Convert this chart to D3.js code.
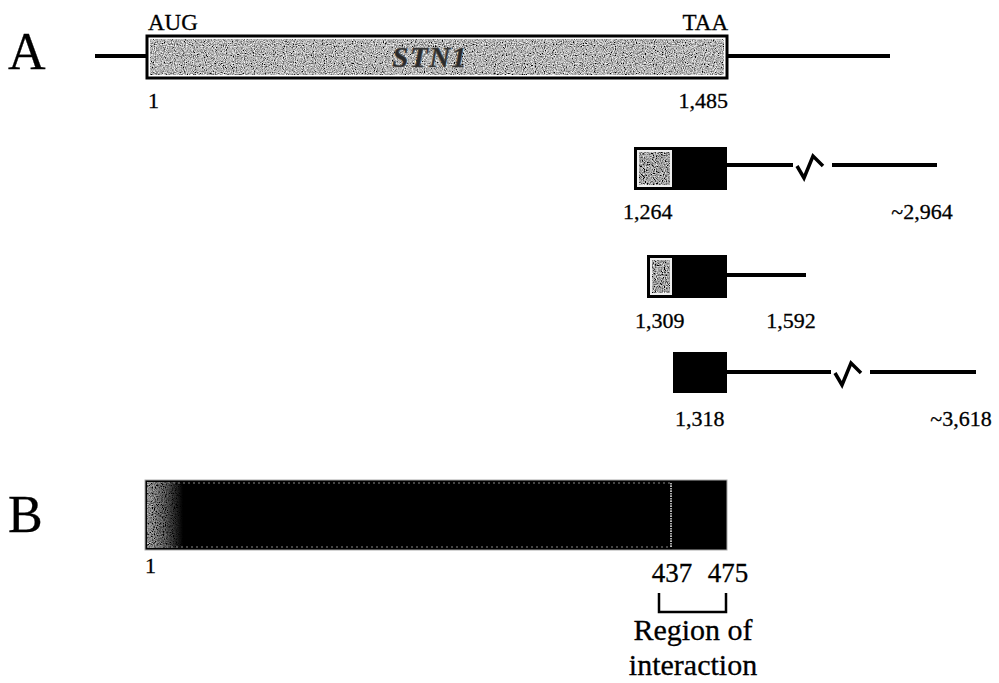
<!DOCTYPE html>
<html>
<head>
<meta charset="utf-8">
<script src="https://cdn.jsdelivr.net/npm/d3@7/dist/d3.min.js"></script>
<style>
  html, body { margin: 0; padding: 0; background: #fff; }
  svg { display: block; }
  text { font-family: "Liberation Serif", "DejaVu Serif", serif; fill: #000; stroke: #000; stroke-width: 0.3; }
</style>
</head>
<body>
<svg id="chart" width="999" height="683"></svg>
<script>
// ---- data -------------------------------------------------------------
// STN1 open reading frame (nucleotides)
const orfStart = 1;
const orfEnd = 1485;
const startCodon = "AUG";
const stopCodon = "TAA";
const geneName = "STN1";

// two-hybrid clones: 5' start, 3' end (nt), whether the end is approximate
const cloneStarts = [1264, 1309, 1318];
const cloneEnds = [2964, 1592, 3618];
const cloneEndApprox = [true, false, true];
const cloneHasBreak = [true, false, true];
// region shared by every clone begins at the latest clone start
const sharedStart = d3.max(cloneStarts);

// protein (amino acids)
const proteinStart = 1;
const proteinEnd = 475;
const interactionStart = 437;
const interactionLabel = ["Region of", "interaction"];

// ---- layout -----------------------------------------------------------
const W = 999, H = 683;
// schematic (not to scale) nucleotide axis: anchor pixels for each landmark
const ntLandmarks = [orfStart, ...cloneStarts, orfEnd, ...cloneEnds].sort((a, b) => a - b);
const ntAnchorPx = [147, 634, 647, 673, 727, 806, 937, 976];
const x = d3.scaleLinear().domain(ntLandmarks).range(ntAnchorPx);

const aa = d3.scaleLinear()
  .domain([proteinStart, interactionStart, proteinEnd])
  .range([145, 671, 727]);

const gene = { top: 36, height: 42, lineY: 56, leftFlank: 95, rightFlank: 890 };
const cloneRows = [
  { top: 147, height: 43, lineY: 165, labelY: 219, startDx: -11, breakX: 810 },
  { top: 255, height: 43, lineY: 275, labelY: 328, startDx: -12, breakX: null },
  { top: 352, height: 41, lineY: 372, labelY: 426, startDx: 2,   breakX: 848 }
];
const bar = { top: 480, height: 70 };

const fmt = d3.format(",");
const svg = d3.select("#chart");
svg.append("rect").attr("width", W).attr("height", H).attr("fill", "#fff");

// ---- defs: grainy grey fills ------------------------------------------
const defs = svg.append("defs");
function grainFilter(id, gain, offset) {
  const f = defs.append("filter").attr("id", id)
    .attr("x", 0).attr("y", 0).attr("width", 1).attr("height", 1);
  f.append("feTurbulence").attr("type", "fractalNoise")
    .attr("baseFrequency", 0.9).attr("numOctaves", 2).attr("seed", 3).attr("result", "n");
  f.append("feColorMatrix").attr("in", "n").attr("type", "matrix")
    .attr("values", `${gain} 0 0 0 ${offset}  ${gain} 0 0 0 ${offset}  ${gain} 0 0 0 ${offset}  0 0 0 0 1`)
    .attr("result", "g");
  f.append("feComposite").attr("in", "g").attr("in2", "SourceGraphic").attr("operator", "in");
}
grainFilter("grain", 1.7, -0.4);
grainFilter("grainDark", 1.7, -0.5);

const fade = defs.append("linearGradient").attr("id", "fade")
  .attr("x1", 0).attr("x2", 1).attr("y1", 0).attr("y2", 0);
fade.append("stop").attr("offset", 0).attr("stop-color", "#fff").attr("stop-opacity", 0.9);
fade.append("stop").attr("offset", 0.5).attr("stop-color", "#fff").attr("stop-opacity", 0.5);
fade.append("stop").attr("offset", 1).attr("stop-color", "#fff").attr("stop-opacity", 0);
defs.append("mask").attr("id", "fadeMask").attr("maskContentUnits", "userSpaceOnUse")
  .append("rect")
  .attr("x", aa(proteinStart) + 2).attr("y", bar.top)
  .attr("width", 36).attr("height", bar.height)
  .attr("fill", "url(#fade)");

// ---- panel letters ------------------------------------------------------
svg.append("text").attr("x", 8).attr("y", 69).attr("font-size", 52).text("A");
svg.append("text").attr("x", 8).attr("y", 532).attr("font-size", 52).text("B");

// ---- A: gene ------------------------------------------------------------
const gA = svg.append("g");
gA.append("line")
  .attr("x1", gene.leftFlank).attr("x2", x(orfStart))
  .attr("y1", gene.lineY).attr("y2", gene.lineY)
  .attr("stroke", "#000").attr("stroke-width", 4);
gA.append("line")
  .attr("x1", x(orfEnd)).attr("x2", gene.rightFlank)
  .attr("y1", gene.lineY).attr("y2", gene.lineY)
  .attr("stroke", "#000").attr("stroke-width", 4);
gA.append("rect")
  .attr("x", x(orfStart)).attr("y", gene.top)
  .attr("width", x(orfEnd) - x(orfStart)).attr("height", gene.height)
  .attr("fill", "#fff").attr("stroke", "#000").attr("stroke-width", 3);
gA.append("rect")
  .attr("x", x(orfStart) + 3).attr("y", gene.top + 3)
  .attr("width", x(orfEnd) - x(orfStart) - 6).attr("height", gene.height - 6)
  .attr("fill", "#aaa").attr("filter", "url(#grain)");
gA.append("text")
  .attr("x", 430).attr("y", gene.lineY + 11)
  .attr("text-anchor", "middle").attr("font-size", 29)
  .attr("font-style", "italic").attr("font-weight", "bold")
  .attr("letter-spacing", 1.5)
  .style("fill", "#2a2a2a").style("stroke", "#555").style("stroke-width", 0.6)
  .text(geneName);
gA.append("text").attr("x", x(orfStart) + 1).attr("y", 30).attr("font-size", 23).text(startCodon);
gA.append("text").attr("x", x(orfEnd) + 1).attr("y", 30).attr("font-size", 23)
  .attr("text-anchor", "end").text(stopCodon);
gA.append("text").attr("x", x(orfStart) + 1).attr("y", 108).attr("font-size", 22).text(fmt(orfStart));
gA.append("text").attr("x", x(orfEnd) + 1).attr("y", 108).attr("font-size", 22)
  .attr("text-anchor", "end").text(fmt(orfEnd));

// ---- A: clones ----------------------------------------------------------
const breakPts = [[-13, 1], [-6, 13], [3, -9], [13, 1]];
cloneStarts.forEach((s, i) => {
  const row = cloneRows[i];
  const g = svg.append("g");
  const x0 = x(s), xs = x(sharedStart), xe = x(orfEnd), xEnd = x(cloneEnds[i]);

  // 3' tail, broken where the clone runs far past the stop codon
  if (cloneHasBreak[i]) {
    const bx = row.breakX;
    g.append("line").attr("x1", xe).attr("x2", bx - 17)
      .attr("y1", row.lineY).attr("y2", row.lineY)
      .attr("stroke", "#000").attr("stroke-width", 4);
    g.append("path")
      .attr("d", d3.line()(breakPts.map(([dx, dy]) => [bx + dx, row.lineY + dy])))
      .attr("fill", "none").attr("stroke", "#000").attr("stroke-width", 3.5)
      .attr("stroke-linejoin", "miter");
    g.append("line").attr("x1", bx + 22).attr("x2", xEnd)
      .attr("y1", row.lineY).attr("y2", row.lineY)
      .attr("stroke", "#000").attr("stroke-width", 4);
  } else {
    g.append("line").attr("x1", xe).attr("x2", xEnd)
      .attr("y1", row.lineY).attr("y2", row.lineY)
      .attr("stroke", "#000").attr("stroke-width", 4);
  }

  // coding part: black box, grey for the part not shared by all clones
  g.append("rect").attr("x", x0).attr("y", row.top)
    .attr("width", xe - x0).attr("height", row.height).attr("fill", "#000");
  if (xs - x0 > 1) {
    g.append("rect").attr("x", x0 + 3).attr("y", row.top + 3)
      .attr("width", xs - x0 - 4).attr("height", row.height - 6)
      .attr("fill", "#eee");
    g.append("rect").attr("x", x0 + 5).attr("y", row.top + 5)
      .attr("width", xs - x0 - 8).attr("height", row.height - 10)
      .attr("fill", "#999").attr("filter", "url(#grainDark)");
  }

  g.append("text").attr("x", x0 + row.startDx).attr("y", row.labelY)
    .attr("font-size", 22).text(fmt(s));
  g.append("text").attr("x", xEnd - 15).attr("y", row.labelY)
    .attr("font-size", 22).attr("text-anchor", "middle")
    .text((cloneEndApprox[i] ? "~" : "") + fmt(cloneEnds[i]));
});

// ---- B: protein ---------------------------------------------------------
const gB = svg.append("g");
gB.append("rect")
  .attr("x", aa(proteinStart)).attr("y", bar.top)
  .attr("width", aa(proteinEnd) - aa(proteinStart)).attr("height", bar.height)
  .attr("fill", "#000").attr("stroke", "#aaa").attr("stroke-width", 1);
gB.append("rect")
  .attr("x", aa(proteinStart) + 2).attr("y", bar.top + 2)
  .attr("width", 36).attr("height", bar.height - 4)
  .attr("fill", "#999").attr("filter", "url(#grainDark)").attr("mask", "url(#fadeMask)");
gB.append("rect")
  .attr("x", aa(proteinStart) + 3).attr("y", bar.top + 3)
  .attr("width", aa(interactionStart) - aa(proteinStart) - 3).attr("height", bar.height - 6)
  .attr("fill", "none").attr("stroke", "#888").attr("stroke-width", 1)
  .attr("stroke-dasharray", "2,3");
gB.append("line")
  .attr("x1", aa(interactionStart)).attr("x2", aa(interactionStart))
  .attr("y1", bar.top + 3).attr("y2", bar.top + bar.height - 3)
  .attr("stroke", "#ddd").attr("stroke-width", 1.5).attr("stroke-dasharray", "1.5,1");

gB.append("text").attr("x", aa(proteinStart)).attr("y", 573).attr("font-size", 22).text(fmt(proteinStart));
gB.append("text").attr("x", aa(interactionStart) + 1).attr("y", 582).attr("font-size", 27)
  .attr("text-anchor", "middle").text(interactionStart);
gB.append("text").attr("x", aa(proteinEnd) + 1).attr("y", 582).attr("font-size", 27)
  .attr("text-anchor", "middle").text(proteinEnd);

// bracket under the interacting region
gB.append("path")
  .attr("d", `M${aa(interactionStart) - 12},593 V612 H${aa(proteinEnd) - 1} V593`)
  .attr("fill", "none").attr("stroke", "#000").attr("stroke-width", 2.5);

const midX = (aa(interactionStart) - 12 + aa(proteinEnd)) / 2;
interactionLabel.forEach((t, i) => {
  gB.append("text").attr("x", midX).attr("y", 640 + i * 35)
    .attr("font-size", 30).attr("text-anchor", "middle").text(t);
});
</script>
</body>
</html>
